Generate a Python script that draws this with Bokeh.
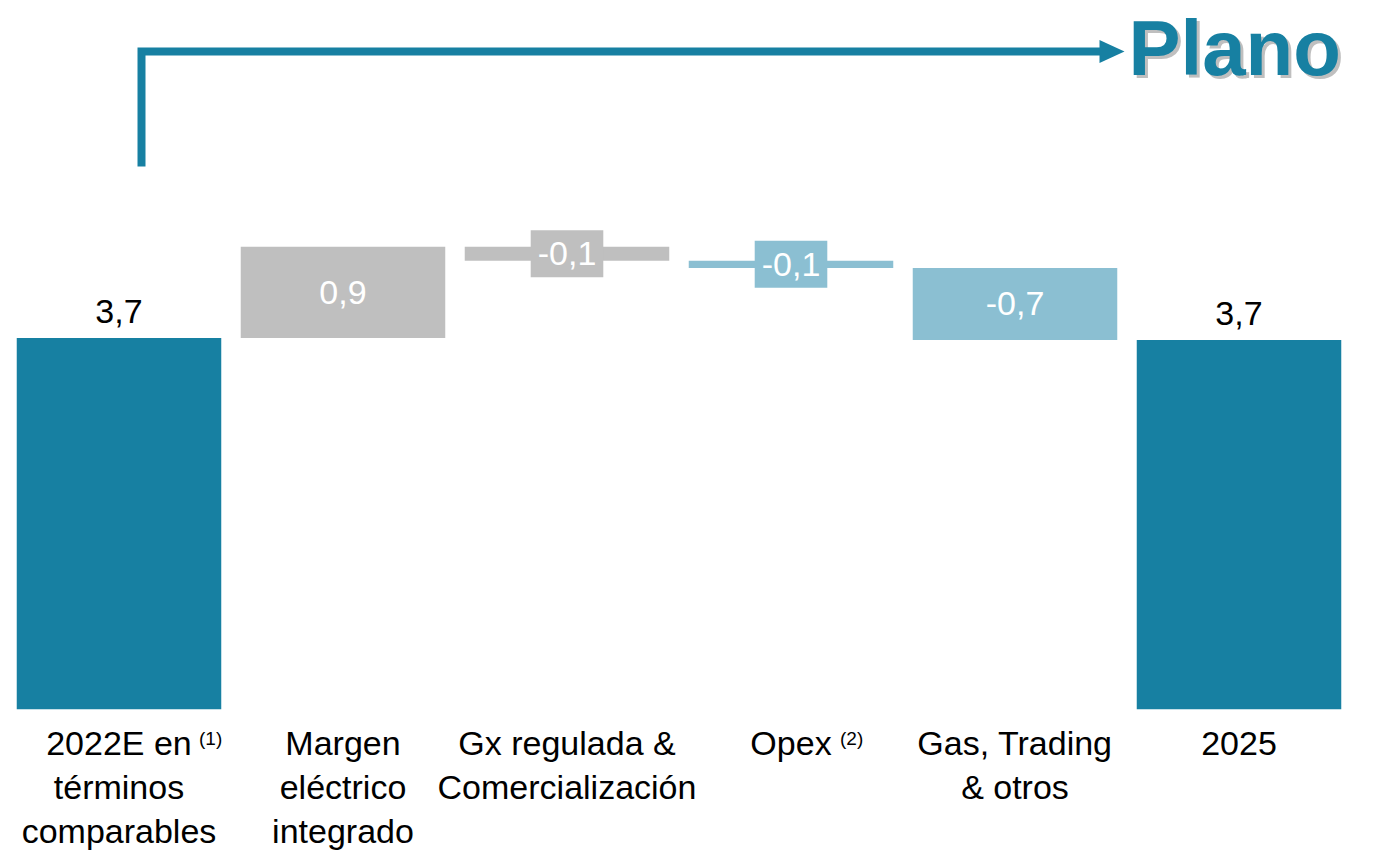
from bokeh.plotting import figure
from bokeh.models import FactorRange, Range1d, ColumnDataSource
from bokeh.core.properties import value
from bokeh.embed import file_html
from bokeh.resources import INLINE

# ---- data ----
categories = ["2022E en\ntérminos\ncomparables", "Margen\neléctrico\nintegrado",
              "Gx regulada &\nComercialización", "Opex", "Gas, Trading\n& otros", "2025"]
superscripts = ["(1)", "", "", "(2)", "", ""]
kinds = ["total", "delta", "delta", "delta", "delta", "total"]
values = [3.70, 0.91, -0.14, -0.07, -0.72, 3.68]
value_labels = ["3,7", "0,9", "-0,1", "-0,1", "-0,7", "3,7"]
title_text = "Plano"

TEAL = "#1780A2"
GRAY = "#BFBFBF"
LIGHT = "#8BBFD2"
bar_colors = [TEAL, GRAY, GRAY, LIGHT, LIGHT, TEAL]

# ---- layout ----
W, H = 1357, 850
PAD = 0.029                      # factor-range padding (synthetic units)
SPACING = W / (len(categories) + 2 * PAD)
PX_PER_UNIT = 100.3
ZERO_PX = 708.7                  # canvas row of y = 0
y_top = ZERO_PX / PX_PER_UNIT
y_bot = -(H - ZERO_PX) / PX_PER_UNIT
FONT = "Liberation Sans"
FS = "34px"
label_y_shift = [0, 0, 0, 0, 0, 8]   # per-label vertical nudge (px)

def X(px):
    return px / SPACING - PAD

def Y(py):
    return (ZERO_PX - py) / PX_PER_UNIT

# waterfall bottoms/tops
bottoms, tops = [], []
running = 0.0
for k, v in zip(kinds, values):
    if k == "total":
        bottoms.append(0.0)
        tops.append(v)
        running = v
    else:
        b = running
        running = running + v
        bottoms.append(min(b, running))
        tops.append(max(b, running))

src = ColumnDataSource(dict(cat=categories, bottom=bottoms, top=tops, color=bar_colors))

xr = FactorRange(*categories, range_padding=PAD, range_padding_units="absolute")
p = figure(width=W, height=H, x_range=xr, y_range=Range1d(y_bot, y_top),
           output_backend="svg", toolbar_location=None, min_border=0)
p.axis.visible = False
p.grid.visible = False
p.outline_line_color = None
p.background_fill_color = "white"
p.border_fill_color = "white"

p.vbar(x="cat", bottom="bottom", top="top", width=0.913, fill_color="color",
       line_color=None, source=src)

# value labels
tot = [i for i, k in enumerate(kinds) if k == "total"]
p.text(x=[categories[i] for i in tot], y=[tops[i] for i in tot], text=[value_labels[i] for i in tot],
       text_font=value(FONT), text_font_size=FS, text_color="black",
       text_align="center", text_baseline="alphabetic", y_offset=-27)

big = [i for i, k in enumerate(kinds) if k == "delta" and abs(values[i]) >= 0.2]
p.text(x=[categories[i] for i in big], y=[(tops[i] + bottoms[i]) / 2 for i in big],
       text=[value_labels[i] for i in big], text_font=value(FONT), text_font_size=FS,
       text_color="white", text_align="center", text_baseline="middle")

small = [i for i, k in enumerate(kinds) if k == "delta" and abs(values[i]) < 0.2]
ssrc = ColumnDataSource(dict(x=[categories[i] for i in small],
                             y=[(tops[i] + bottoms[i]) / 2 for i in small],
                             t=[value_labels[i] for i in small],
                             bg=[bar_colors[i] for i in small]))
p.text(x="x", y="y", text="t", source=ssrc, text_font=value(FONT), text_font_size=FS,
       text_color="white", text_align="center", text_baseline="middle",
       background_fill_color="bg", padding=dict(left=7, right=7, top=12, bottom=12))

# category labels
p.text(x=categories, y=[Y(723)] * len(categories), text=categories, y_offset=label_y_shift,
       text_font=value(FONT), text_font_size=FS, text_color="black", text_align="center",
       text_baseline="top", text_line_height=1.165)

sup_idx = [i for i, s in enumerate(superscripts) if s]
first_line_w = {0: 80, 3: 49}
p.text(x=[categories[i] for i in sup_idx], y=[Y(727)] * len(sup_idx),
       text=[superscripts[i] for i in sup_idx], x_offset=[first_line_w[i] for i in sup_idx],
       text_font=value(FONT), text_font_size="19px", text_color="black",
       text_align="left", text_baseline="top")

# arrow decoration
p.line([X(141), X(141), X(1104)], [Y(166), Y(51), Y(51)], line_width=8, color=TEAL,
       line_join="miter", line_cap="butt")
p.patch([X(1099), X(1124), X(1099)], [Y(39.5), Y(51), Y(62.5)], color=TEAL, line_color=None)

# title with shadow
TFS = "78px"
p.text(x=[X(1128)], y=[Y(47)], text=[title_text], x_offset=3, y_offset=3,
       text_font=value(FONT), text_font_style="bold", text_font_size=TFS,
       text_color="#8a8a8a", text_alpha=0.55, text_align="left", text_baseline="alphabetic")
p.text(x=[X(1128)], y=[Y(47)], text=[title_text],
       text_font=value(FONT), text_font_style="bold", text_font_size=TFS,
       text_color=TEAL, text_align="left", text_baseline="alphabetic")

open("out.html", "w").write(file_html(p, INLINE))
